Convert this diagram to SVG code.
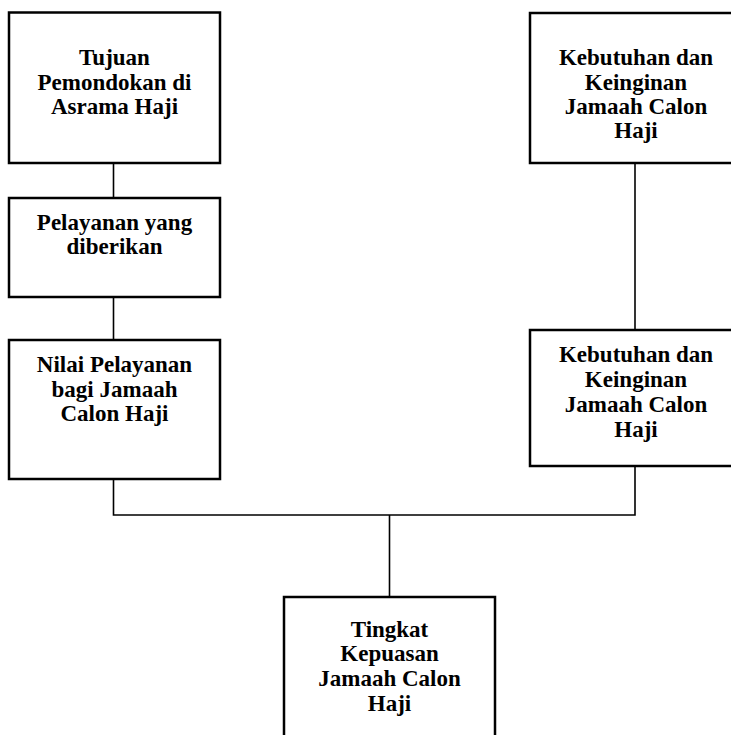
<svg xmlns="http://www.w3.org/2000/svg" width="731" height="735" viewBox="0 0 731 735">
<style>
.box{fill:#fff;stroke:#000;stroke-width:2.5}
.conn{fill:none;stroke:#000;stroke-width:1.6}
text{font-family:"Liberation Serif","Times New Roman",serif;font-weight:bold;font-size:23px;fill:#000;text-anchor:middle}
</style>
<rect width="731" height="735" fill="#fff"/>
<g id="connectors">
<line class="conn" x1="113.5" y1="163" x2="113.5" y2="198"/>
<line class="conn" x1="113.5" y1="297" x2="113.5" y2="340"/>
<line class="conn" x1="635" y1="163" x2="635" y2="330"/>
<path class="conn" d="M113.5,479 V515 H635 V466"/>
<line class="conn" x1="389.5" y1="515" x2="389.5" y2="597"/>
</g>
<g id="tujuan">
<rect class="box" x="9" y="12.5" width="211" height="150.5"/>
<text x="114.5" y="65">Tujuan</text>
<text x="114.5" y="90">Pemondokan di</text>
<text x="114.5" y="114">Asrama Haji</text>
</g>
<g id="pelayanan">
<rect class="box" x="9" y="198" width="211" height="99"/>
<text x="114.5" y="230">Pelayanan yang</text>
<text x="114.5" y="254">diberikan</text>
</g>
<g id="nilai">
<rect class="box" x="9" y="340" width="211" height="139"/>
<text x="114.5" y="372">Nilai Pelayanan</text>
<text x="114.5" y="397">bagi Jamaah</text>
<text x="114.5" y="421">Calon Haji</text>
</g>
<g id="kebutuhan1">
<rect class="box" x="530" y="13" width="212" height="150"/>
<text x="636" y="65">Kebutuhan dan</text>
<text x="636" y="90">Keinginan</text>
<text x="636" y="114">Jamaah Calon</text>
<text x="636" y="138">Haji</text>
</g>
<g id="kebutuhan2">
<rect class="box" x="530" y="330" width="212" height="136"/>
<text x="636" y="362">Kebutuhan dan</text>
<text x="636" y="387">Keinginan</text>
<text x="636" y="412">Jamaah Calon</text>
<text x="636" y="437">Haji</text>
</g>
<g id="tingkat">
<rect class="box" x="284" y="597" width="211" height="150"/>
<text x="389.5" y="637">Tingkat</text>
<text x="389.5" y="661">Kepuasan</text>
<text x="389.5" y="686">Jamaah Calon</text>
<text x="389.5" y="711">Haji</text>
</g>
</svg>
